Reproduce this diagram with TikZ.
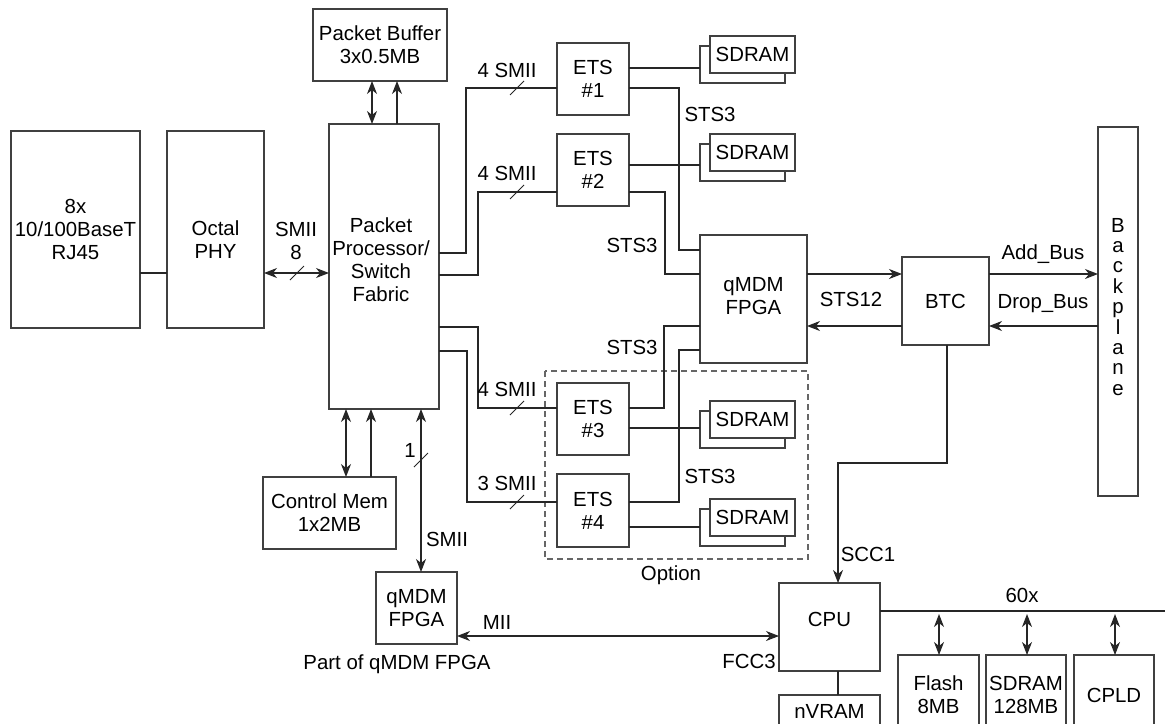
\documentclass[tikz,border=0pt]{standalone}
\usepackage{fontspec}
\setmainfont{Liberation Sans}
\usepackage{tikz}
\usetikzlibrary{arrows.meta}

\tikzset{
  blk/.style 2 args={draw=black!75, line width=0.6pt, fill=white, inner sep=0pt,
    outer sep=0pt, align=center, minimum width=#1*0.5pt, minimum height=#2*0.5pt},
  wire/.style={draw=black!85, line width=0.6pt},
  arr/.style={wire, -{Stealth[length=6.5pt, width=5pt, inset=2pt]}},
  dbl/.style={wire, {Stealth[length=6.5pt, width=5pt, inset=2pt]}-{Stealth[length=6.5pt, width=5pt, inset=2pt]}},
  lbl/.style={inner sep=0pt, align=center}
}
\newcommand{\busmark}[1]{\draw[wire, line width=0.5pt] ([shift={(-7,7)}]#1) -- ([shift={(7,-7)}]#1);}

\begin{document}
\begin{tikzpicture}[x=0.5pt, y=-0.5pt, font=\fontsize{10.2}{11.5}\selectfont]
        \useasboundingbox (0,0) rectangle (1165,723);
        \clip (0,0) rectangle (1165,723);

        % Khối bên trái
        \node[blk={129}{197}] (rj) at (75.5,229.5) {8x\\10/100BaseT\\RJ45};
        \node[blk={97}{197}] (phy) at (215.5,229.5) {};
        \node[lbl] (phytxt) at (215.5,240) {Octal\\PHY};
        \node[blk={110}{285}] (pp) at (384,266.5) {};
        \node[lbl] (pptxt) at (381,260) {Packet\\Processor/\\Switch\\Fabric};
        \node[blk={134}{72}] (pbuf) at (380,45) {Packet Buffer\\3x0.5MB};
        \node[blk={133}{72}] (cmem) at (329.5,513) {Control Mem\\1x2MB};
        \node[blk={81}{72}] (qsm) at (416.5,608) {qMDM\\FPGA};

        % Các khối ETS và SDRAM
        \node[blk={72}{72}] (ets1) at (593,79) {ETS\\\#1};
        \node[blk={72}{72}] (ets2) at (593,170) {ETS\\\#2};
        \node[blk={72}{72}] (ets3) at (593,419) {ETS\\\#3};
        \node[blk={72}{73}] (ets4) at (593,510.5) {ETS\\\#4};
        \foreach \n/\y in {1/54.5, 2/152.5, 3/419.5, 4/517.5} {
            \node[blk={85}{37}] (sd\n b) at (742.5,\y+10) {};
            \node[blk={85}{37}] (sd\n) at (752.5,\y) {SDRAM};
        }

        % qMDM, BTC, Backplane
        \node[blk={107}{128}] (qmdm) at (753.5,299) {};
        \node[lbl] (qmdmtxt) at (753.5,296) {qMDM\\FPGA};
        \node[blk={87}{88}] (btc) at (945.5,301) {BTC};
        \node[blk={40}{369}] (bp) at (1118,311.5) {};
        \foreach \ch [count=\i from 0] in {B,a,c,k,p,l,a,n,e}
            \node[lbl, anchor=base] at (1118,{232+20.4*\i}) {\ch};

        % CPU và bus 60x
        \node[blk={101}{88}] (cpu) at (829.5,627) {};
        \node[lbl] (cputxt) at (829.5,619) {CPU};
        \node[blk={101}{32}] (nvram) at (829.5,711) {nVRAM};
        \node[blk={81}{80}] (flash) at (938.5,695) {Flash\\8MB};
        \node[blk={80}{80}] (sdr) at (1026,695) {SDRAM\\128MB};
        \node[blk={80}{80}] (cpld) at (1114,695) {CPLD};

        % Vùng tùy chọn
        \draw[draw=black!60, line width=0.6pt, dash pattern=on 3pt off 2pt] (545,371) rectangle (808,559);
        \node[lbl] (opt) at (671,575) {Option};

        % Kết nối bên trái
        \draw[wire] (rj.east |- 0,273) -- (phy.west |- 0,273);
        \draw[dbl] (phy.east |- 0,273) -- (pp.west |- 0,273);
        \busmark{297,273}
        \node[lbl] at (296,229) {SMII};
        \node[lbl] at (296,252) {8};
        \draw[dbl] (pp.north -| 372,0) -- (pbuf.south -| 372,0);
        \draw[arr] (pp.north -| 397,0) -- (pbuf.south -| 397,0);
        \draw[dbl] (pp.south -| 346,0) -- (cmem.north -| 346,0);
        \draw[arr] (cmem.north -| 371,0) -- (pp.south -| 371,0);
        \draw[dbl] (pp.south -| 421,0) -- (qsm.north -| 421,0);
        \busmark{421,460}
        \node[lbl] at (410,450) {1};
        \node[lbl] at (447,539) {SMII};
        \node[lbl] at (397,664) {Part of qMDM FPGA};

        % Packet Processor tới ETS
        \draw[wire] (pp.east |- 0,253) -| (466,88) -- (ets1.west |- 0,88);
        \draw[wire] (pp.east |- 0,275) -| (478,192) -- (ets2.west |- 0,192);
        \draw[wire] (pp.east |- 0,327) -| (478,408) -- (ets3.west |- 0,408);
        \draw[wire] (pp.east |- 0,351) -| (467,502) -- (ets4.west |- 0,502);
        \foreach \y in {88,192,408,502} { \busmark{517,\y} }
        \node[lbl] at (507,70) {4 SMII};
        \node[lbl] at (507,173) {4 SMII};
        \node[lbl] at (507,389) {4 SMII};
        \node[lbl] at (507,483) {3 SMII};

        % ETS tới SDRAM
        \draw[wire] (ets1.east |- 0,68) -- (sd1b.west |- 0,68);
        \draw[wire] (ets2.east |- 0,165) -- (sd2b.west |- 0,165);
        \draw[wire] (ets3.east |- 0,428) -- (sd3b.west |- 0,428);
        \draw[wire] (ets4.east |- 0,527) -- (sd4b.west |- 0,527);

        % ETS tới qMDM (STS3)
        \draw[wire] (ets1.east |- 0,88) -| (679,250) -- (qmdm.west |- 0,250);
        \draw[wire] (ets2.east |- 0,192) -| (665,274) -- (qmdm.west |- 0,274);
        \draw[wire] (ets3.east |- 0,408) -| (664,326) -- (qmdm.west |- 0,326);
        \draw[wire] (ets4.east |- 0,502) -| (679,350) -- (qmdm.west |- 0,350);
        \node[lbl] at (710,114) {STS3};
        \node[lbl] at (632,245) {STS3};
        \node[lbl] at (632,347) {STS3};
        \node[lbl] at (710,476) {STS3};

        % qMDM - BTC - Backplane
        \draw[arr] (qmdm.east |- 0,274) -- (btc.west |- 0,274);
        \draw[arr] (btc.west |- 0,326) -- (qmdm.east |- 0,326);
        \node[lbl] at (851,299) {STS12};
        \draw[arr] (btc.east |- 0,274) -- (bp.west |- 0,274);
        \draw[arr] (bp.west |- 0,326) -- (btc.east |- 0,326);
        \node[lbl] at (1043,254) {Add\_Bus};
        \node[lbl] at (1043,304) {Drop\_Bus};
        \draw[arr] (btc.south -| 947,0) -- (947,463) -| (cpu.north -| 838,0);
        \node[lbl] at (868,554) {SCC1};

        % CPU
        \draw[dbl] (qsm.east |- 0,636) -- (cpu.west |- 0,636);
        \node[lbl] at (497,622) {MII};
        \node[lbl, anchor=east] at (776,661) {FCC3};
        \draw[wire] (cpu.south -| 838,0) -- (nvram.north -| 838,0);
        \coordinate (busend) at (1170,611);
        \draw[wire] (cpu.east |- 0,611) -- (busend);
        \node[lbl] at (1022,595) {60x};
        \draw[dbl] (939,614) -- (flash.north -| 939,0);
        \draw[dbl] (1027,614) -- (sdr.north -| 1027,0);
        \draw[dbl] (1115,614) -- (cpld.north -| 1115,0);
      \end{tikzpicture}
\end{document}
